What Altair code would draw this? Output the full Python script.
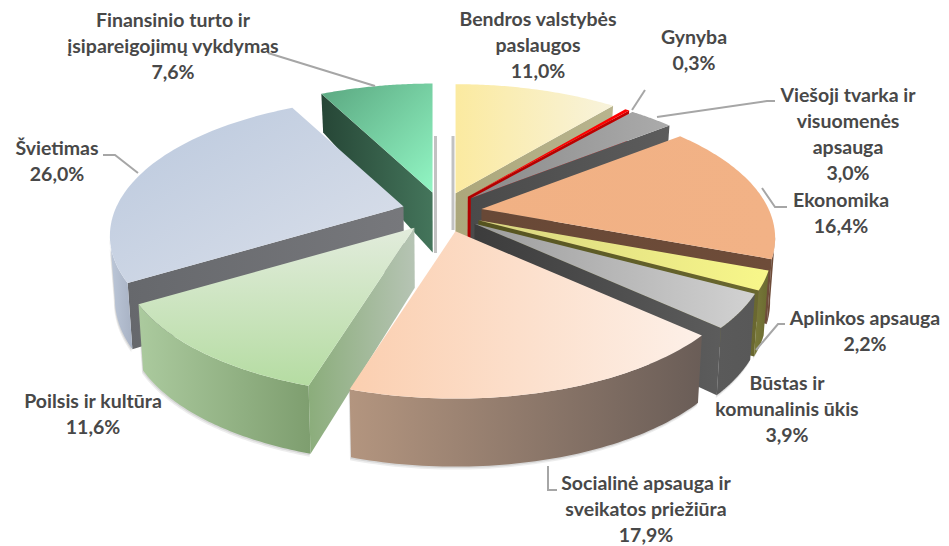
import math
import altair as alt
import pandas as pd

# ---- values ----
categories = ["Bendros valstybės\npaslaugos", "Gynyba", "Viešoji tvarka ir\nvisuomenės\napsauga",
              "Ekonomika", "Aplinkos apsauga", "Būstas ir\nkomunalinis ūkis",
              "Socialinė apsauga ir\nsveikatos priežiūra", "Poilsis ir kultūra", "Švietimas",
              "Finansinio turto ir\nįsipareigojimų vykdymas"]
shares = [11.0, 0.3, 3.0, 16.4, 2.2, 3.9, 17.9, 11.6, 26.0, 7.6]
pct_labels = ["11,0%", "0,3%", "3,0%", "16,4%", "2,2%", "3,9%", "17,9%", "11,6%", "26,0%", "7,6%"]

# ---- layout of the labels (centre x, y of first line) ----
label_x = [538, 694, 848, 841, 865, 787, 646, 93, 57, 173]
label_y = [20, 38, 96, 201, 319, 384, 484, 402, 149, 21]

leaders = [
    [(268, 53), (375, 86)],
    [(645, 90), (632, 110)],
    [(775, 101), (767, 101), (657, 117)],
    [(787, 207), (775, 207), (762, 188)],
    [(785, 324), (778, 324), (756, 350)],
    [(557, 490), (548, 490), (548, 466)],
    [(103, 155), (115, 155), (138, 173)],
]

# small per-slice nudges of the drawing
nudge = {6: 3, 7: -3}

# ---- styling of every slice: top, cut wall, rim ----
def grad(c0, c1, x1=0, y1=0, x2=1, y2=0):
    return alt.Gradient(gradient="linear", x1=x1, y1=y1, x2=x2, y2=y2,
                        stops=[alt.GradientStop(color=c0, offset=0), alt.GradientStop(color=c1, offset=1)])

styles = {
    0: (grad("#FBEAA0", "#F8F3DC"), grad("#ACA77B", "#B8B48E"), "#ACA77B"),
    1: (grad("#FF0000", "#FF0000"), grad("#B00000", "#C00000"), "#C00000"),
    2: (grad("#8A8A8A", "#ABABAB"), grad("#4A4A4A", "#5C5C5C"), "#5C5C5C"),
    3: (grad("#F1B184", "#F2B286"), grad("#684836", "#6E4C39"), "#6E4C39"),
    4: (grad("#D8D580", "#F8F78A"), grad("#55531F", "#6A6830"), grad("#7A7A3A", "#6A6A30")),
    5: (grad("#9C9C9C", "#D2D2D2"), grad("#3C3C3C", "#5C5C5C"), grad("#5A5A5A", "#585858")),
    6: (grad("#FBCFB0", "#FDF0E8"), grad("#8A7566", "#8A7566"), grad("#B3957F", "#6A5D57")),
    7: (grad("#E2ECDC", "#B5DCA2", 0, 0, 0, 1), grad("#8BAD7B", "#B6C4B4"), grad("#ABCA9E", "#7E9E6F")),
    8: (grad("#BAC8DD", "#DCE1EB", 0, 0, 1, 1), grad("#66686C", "#77787C"), grad("#BCC7D8", "#A8B2C4")),
    9: (grad("#5AA780", "#92F6C4", 0, 0, 1, 1), grad("#264636", "#44755B"), "#44755B"),
}

# ---- the tilted, exploded disc ----
CX, CY = 442 - 8, 212 - 8          # centre on the page, minus the page margin
EX, EY = 40, 20                    # explosion
A, B, K = 287, 132, 0.211          # radii and perspective


def depth(v):
    return 60 - 16.5 * v - 8.5 * v * v


def build_slice(t0, t1, shift=0, n=60):
    tm = (t0 + t1) / 2
    ax, ay = CX + EX * math.sin(tm) + shift, CY - EY * math.cos(tm)
    rim = []
    for i in range(n + 1):
        t = t0 + (t1 - t0) * i / n
        w = 1 + K * math.cos(t)
        rim.append((ax + A * math.sin(t) / w, ay - B * math.cos(t) / w, math.cos(t)))
    return (ax, ay, 0.0), rim


def drop(p):
    d = depth(p[2])
    return (CX + (p[0] - CX) * 0.985, p[1] + d)


def wall(points):
    top = [(p[0], p[1]) for p in points]
    bottom = [drop(p) for p in points]
    return top + bottom[::-1]


def shape(chart_pts, fill, opacity=None):
    pts = [[round(x, 2), round(y, 2)] for x, y in chart_pts]
    pts.append(pts[0])
    feature = {"type": "Feature", "properties": {}, "geometry": {"type": "Polygon", "coordinates": [pts]}}
    data = alt.InlineData(values={"type": "FeatureCollection", "features": [feature]},
                          format=alt.DataFormat(property="features", type="json"))
    kw = {} if opacity is None else {"opacity": opacity}
    return alt.Chart(data).mark_geoshape(fill=fill, strokeWidth=0, **kw).project(
        type="identity", scale=1, translate=[0, 0])


total = sum(shares)
angles = []
c = 0.0
for s in shares:
    angles.append((c / total * 2 * math.pi, (c + s) / total * 2 * math.pi))
    c += s

paint_order = [9, 8, 0, 1, 2, 3, 4, 5, 7, 6]
layers = []

# soft inner shadows beside the central gap
gap_shadow = pd.DataFrame({"x": [427.5, 427.5, 445, 445], "y": [128, 245, 128, 222], "g": ["a", "a", "b", "b"]})

for idx in paint_order:
    t0, t1 = angles[idx]
    apex, rim = build_slice(t0, t1, nudge.get(idx, 0))
    top_fill, cut_fill, rim_fill = styles[idx]
    # outer wall: the run of the rim that faces the viewer
    front = [rim[i] for i in range(len(rim) - 1) if rim[i + 1][0] < rim[i][0]]
    if front:
        last = rim.index(front[-1])
        front = front + [rim[last + 1]]
    # shadow of the visible outer wall
    if len(front) > 2:
        layers.append(shape([(x - 1, y + 3) for x, y in wall(front)], "#808080", 0.14))
        layers.append(shape([(x - 0.5, y + 1.5) for x, y in wall(front)], "#808080", 0.2))
    if rim[0][0] < apex[0]:
        layers.append(shape(wall([apex, rim[0]]), cut_fill))
    if rim[-1][0] > apex[0]:
        layers.append(shape(wall([rim[-1], apex]), cut_fill))
    if len(front) > 2:
        layers.append(shape(wall(front), rim_fill))
    layers.append(shape([(apex[0], apex[1])] + [(p[0], p[1]) for p in rim], top_fill))
    if idx == 9 or idx == 8:
        g = "a" if idx == 9 else "b"
        layers.append(alt.Chart(gap_shadow[gap_shadow.g == g]).mark_line(color="#9A9A9A", strokeWidth=3, opacity=0.6).encode(
            x=alt.X("x:Q", scale=None), y=alt.Y("y:Q", scale=None)))

# leader lines
rows = []
for i, line in enumerate(leaders):
    for j, (x, y) in enumerate(line):
        rows.append({"x": x - 8, "y": y - 8, "g": i, "o": j})
layers.append(alt.Chart(pd.DataFrame(rows)).mark_line(color="#A6A6A6", strokeWidth=2).encode(
    x=alt.X("x:Q", scale=None), y=alt.Y("y:Q", scale=None), detail="g:N", order="o:Q"))

# labels
FS = 19.5
text_df = pd.DataFrame({
    "t": [f"{c}\n{p}" for c, p in zip(categories, pct_labels)],
    "x": [x - 8 for x in label_x],
    "y": [y - 8 - 9 for y in label_y],
})
layers.append(alt.Chart(text_df).mark_text(
    font="Lato", fontSize=FS, fontWeight="bold", color="#484848",
    lineBreak="\n", lineHeight=26, align="center", baseline="top",
).encode(x=alt.X("x:Q", scale=None), y=alt.Y("y:Q", scale=None), text="t:N"))

chart = alt.layer(*layers).properties(
    width=933, height=538, padding=0, autosize=alt.AutoSizeParams(type="none"), background="white"
).configure_view(stroke=None)

chart.save("out.html", embed_options={"renderer": "svg", "actions": False})
